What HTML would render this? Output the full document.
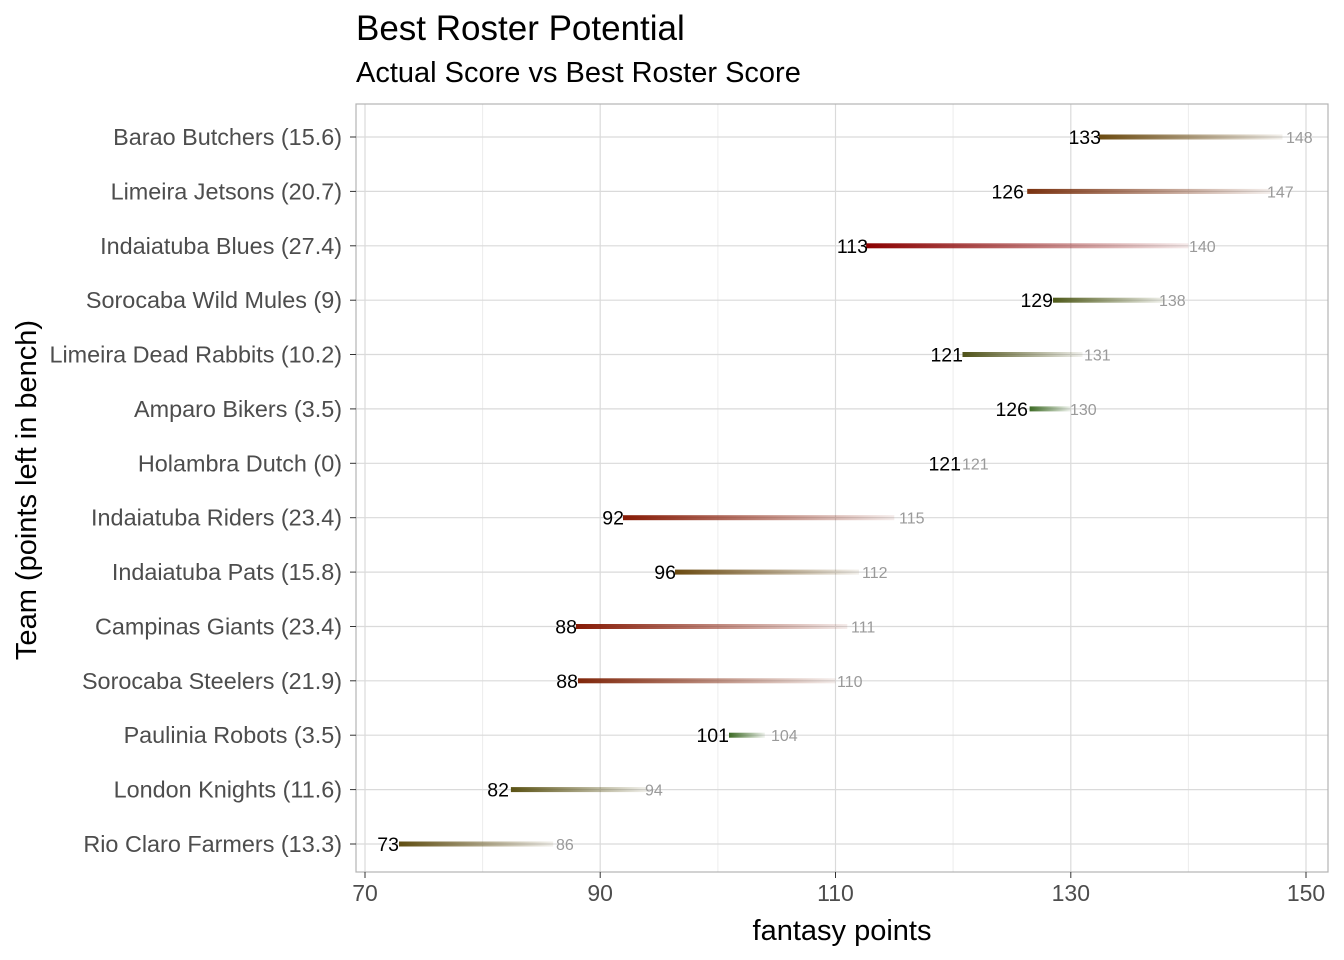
<!DOCTYPE html>
<html><head><meta charset="utf-8"><style>
body{margin:0;background:#fff}
svg{display:block;font-family:"Liberation Sans",Arial,sans-serif}
.yl{font-size:23.4px;fill:#4d4d4d;text-anchor:end}
.xl{font-size:23px;fill:#4d4d4d;text-anchor:middle}
.a{font-size:19.5px;fill:#000;text-anchor:end}
.b{font-size:16px;fill:#9a9a9a}
</style></head><body>
<svg width="1344" height="960" viewBox="0 0 1344 960">
<defs>
<linearGradient id="g1"><stop offset="0" stop-color="#6b4a10"/><stop offset="1" stop-color="#6b4a10" stop-opacity="0.08"/></linearGradient>
<linearGradient id="g2"><stop offset="0" stop-color="#7a3210"/><stop offset="1" stop-color="#7a3210" stop-opacity="0.08"/></linearGradient>
<linearGradient id="g3"><stop offset="0" stop-color="#8b0000"/><stop offset="1" stop-color="#8b0000" stop-opacity="0.08"/></linearGradient>
<linearGradient id="g4"><stop offset="0" stop-color="#4f5a1a"/><stop offset="1" stop-color="#4f5a1a" stop-opacity="0.08"/></linearGradient>
<linearGradient id="g5"><stop offset="0" stop-color="#4f5218"/><stop offset="1" stop-color="#4f5218" stop-opacity="0.08"/></linearGradient>
<linearGradient id="g6"><stop offset="0" stop-color="#3d6b25"/><stop offset="1" stop-color="#3d6b25" stop-opacity="0.08"/></linearGradient>
<linearGradient id="g8"><stop offset="0" stop-color="#861a05"/><stop offset="1" stop-color="#861a05" stop-opacity="0.08"/></linearGradient>
<linearGradient id="g11"><stop offset="0" stop-color="#80260a"/><stop offset="1" stop-color="#80260a" stop-opacity="0.08"/></linearGradient>
<linearGradient id="g12"><stop offset="0" stop-color="#5a5214"/><stop offset="1" stop-color="#5a5214" stop-opacity="0.08"/></linearGradient>
<linearGradient id="g13"><stop offset="0" stop-color="#604e12"/><stop offset="1" stop-color="#604e12" stop-opacity="0.08"/></linearGradient>
</defs>
<text x="356" y="40" font-size="35" fill="#000">Best Roster Potential</text>
<text x="356" y="82" font-size="29" fill="#000">Actual Score vs Best Roster Score</text>
<g stroke="#ececec" stroke-width="1">
<line x1="482.6" y1="104" x2="482.6" y2="872"/><line x1="717.9" y1="104" x2="717.9" y2="872"/><line x1="953.1" y1="104" x2="953.1" y2="872"/><line x1="1188.4" y1="104" x2="1188.4" y2="872"/>
</g>
<g stroke="#dadada" stroke-width="1.2">
<line x1="365" y1="104" x2="365" y2="872"/><line x1="600.2" y1="104" x2="600.2" y2="872"/><line x1="835.5" y1="104" x2="835.5" y2="872"/><line x1="1070.8" y1="104" x2="1070.8" y2="872"/><line x1="1306" y1="104" x2="1306" y2="872"/>
<line x1="356" y1="137" x2="1328" y2="137"/><line x1="356" y1="191.4" x2="1328" y2="191.4"/><line x1="356" y1="245.8" x2="1328" y2="245.8"/><line x1="356" y1="300.2" x2="1328" y2="300.2"/><line x1="356" y1="354.5" x2="1328" y2="354.5"/><line x1="356" y1="408.9" x2="1328" y2="408.9"/><line x1="356" y1="463.3" x2="1328" y2="463.3"/><line x1="356" y1="517.7" x2="1328" y2="517.7"/><line x1="356" y1="572.1" x2="1328" y2="572.1"/><line x1="356" y1="626.5" x2="1328" y2="626.5"/><line x1="356" y1="680.8" x2="1328" y2="680.8"/><line x1="356" y1="735.2" x2="1328" y2="735.2"/><line x1="356" y1="789.6" x2="1328" y2="789.6"/><line x1="356" y1="844" x2="1328" y2="844"/>
</g>
<rect x="356" y="104" width="972" height="768" fill="none" stroke="#b3b3b3" stroke-width="1.2"/>
<g stroke="#333" stroke-width="1">
<line x1="350" y1="137" x2="356" y2="137"/><line x1="350" y1="191.4" x2="356" y2="191.4"/><line x1="350" y1="245.8" x2="356" y2="245.8"/><line x1="350" y1="300.2" x2="356" y2="300.2"/><line x1="350" y1="354.5" x2="356" y2="354.5"/><line x1="350" y1="408.9" x2="356" y2="408.9"/><line x1="350" y1="463.3" x2="356" y2="463.3"/><line x1="350" y1="517.7" x2="356" y2="517.7"/><line x1="350" y1="572.1" x2="356" y2="572.1"/><line x1="350" y1="626.5" x2="356" y2="626.5"/><line x1="350" y1="680.8" x2="356" y2="680.8"/><line x1="350" y1="735.2" x2="356" y2="735.2"/><line x1="350" y1="789.6" x2="356" y2="789.6"/><line x1="350" y1="844" x2="356" y2="844"/>
<line x1="365" y1="872" x2="365" y2="878"/><line x1="600.2" y1="872" x2="600.2" y2="878"/><line x1="835.5" y1="872" x2="835.5" y2="878"/><line x1="1070.8" y1="872" x2="1070.8" y2="878"/><line x1="1306" y1="872" x2="1306" y2="878"/>
</g>
<text class="yl" x="342" y="145">Barao Butchers (15.6)</text>
<text class="yl" x="342" y="199.4">Limeira Jetsons (20.7)</text>
<text class="yl" x="342" y="253.8">Indaiatuba Blues (27.4)</text>
<text class="yl" x="342" y="308.2">Sorocaba Wild Mules (9)</text>
<text class="yl" x="342" y="362.5">Limeira Dead Rabbits (10.2)</text>
<text class="yl" x="342" y="416.9">Amparo Bikers (3.5)</text>
<text class="yl" x="342" y="471.3">Holambra Dutch (0)</text>
<text class="yl" x="342" y="525.7">Indaiatuba Riders (23.4)</text>
<text class="yl" x="342" y="580.1">Indaiatuba Pats (15.8)</text>
<text class="yl" x="342" y="634.5">Campinas Giants (23.4)</text>
<text class="yl" x="342" y="688.8">Sorocaba Steelers (21.9)</text>
<text class="yl" x="342" y="743.2">Paulinia Robots (3.5)</text>
<text class="yl" x="342" y="797.6">London Knights (11.6)</text>
<text class="yl" x="342" y="852">Rio Claro Farmers (13.3)</text>
<text class="xl" x="365" y="901">70</text><text class="xl" x="600.2" y="901">90</text><text class="xl" x="835.5" y="901">110</text><text class="xl" x="1070.8" y="901">130</text><text class="xl" x="1306" y="901">150</text>
<text x="842" y="940" font-size="29" fill="#000" text-anchor="middle">fantasy points</text>
<text transform="translate(36,490) rotate(-90)" font-size="29" fill="#000" text-anchor="middle">Team (points left in bench)</text>
<rect x="1099" y="134.5" width="183.5" height="5" fill="url(#g1)"/>
<rect x="1027.2" y="188.9" width="243.5" height="5" fill="url(#g2)"/>
<rect x="866.1" y="243.3" width="322.3" height="5" fill="url(#g3)"/>
<rect x="1053" y="297.7" width="111.9" height="5" fill="url(#g4)"/>
<rect x="962.5" y="352" width="120" height="5" fill="url(#g5)"/>
<rect x="1029.6" y="406.4" width="41.2" height="5" fill="url(#g6)"/>
<rect x="623" y="515.2" width="271.3" height="5" fill="url(#g8)"/>
<rect x="675" y="569.6" width="184" height="5" fill="url(#g1)"/>
<rect x="576" y="624" width="271.3" height="5" fill="url(#g8)"/>
<rect x="578" y="678.3" width="257.5" height="5" fill="url(#g11)"/>
<rect x="729" y="732.7" width="35.9" height="5" fill="url(#g6)"/>
<rect x="510.9" y="787.1" width="136.4" height="5" fill="url(#g12)"/>
<rect x="399" y="841.5" width="154.2" height="5" fill="url(#g13)"/>
<text class="a" x="1101" y="144">133</text>
<text class="a" x="1024" y="198.4">126</text>
<text class="a" x="868" y="252.8">113</text>
<text class="a" x="1053" y="307.2">129</text>
<text class="a" x="963" y="361.5">121</text>
<text class="a" x="1028" y="415.9">126</text>
<text class="a" x="961" y="470.3">121</text>
<text class="a" x="624" y="524.7">92</text>
<text class="a" x="676" y="579.1">96</text>
<text class="a" x="577" y="633.5">88</text>
<text class="a" x="578" y="687.8">88</text>
<text class="a" x="729" y="742.2">101</text>
<text class="a" x="509" y="796.6">82</text>
<text class="a" x="399" y="851">73</text>
<text class="b" x="1286" y="143">148</text>
<text class="b" x="1267" y="197.4">147</text>
<text class="b" x="1189" y="251.8">140</text>
<text class="b" x="1159" y="306.2">138</text>
<text class="b" x="1084" y="360.5">131</text>
<text class="b" x="1070" y="414.9">130</text>
<text class="b" x="962" y="469.3">121</text>
<text class="b" x="899" y="523.7">115</text>
<text class="b" x="862" y="578.1">112</text>
<text class="b" x="851" y="632.5">111</text>
<text class="b" x="837" y="686.8">110</text>
<text class="b" x="771" y="741.2">104</text>
<text class="b" x="645" y="795.6">94</text>
<text class="b" x="556" y="850">86</text>
</svg>
</body></html>
